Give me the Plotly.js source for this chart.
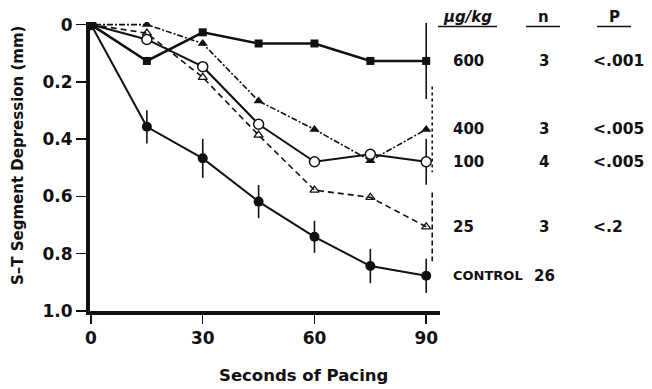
<!DOCTYPE html>
<html><head><meta charset="utf-8">
<script src="https://cdn.plot.ly/plotly-3.0.1.min.js"></script>
<style>html,body{margin:0;padding:0;background:#fff}#c{width:652px;height:389px}</style>
</head><body><div id="c"></div>
<script>
// ---- data ----
var seconds = [0, 15, 30, 45, 60, 75, 90];
var dose600 = [0, 0.127, 0.027, 0.066, 0.066, 0.127, 0.127];
var err600 = [0, 0, 0, 0, 0, 0, 0.133];
var dose400 = [0, 0.0, 0.066, 0.267, 0.366, 0.475, 0.366];
var err400 = 0.15;
var dose100 = [0, 0.052, 0.147, 0.348, 0.479, 0.453, 0.479];
var err100 = [0, 0, 0, 0, 0, 0, 0.08];
var dose25 = [0, 0.03, 0.184, 0.386, 0.578, 0.603, 0.706];
var err25 = 0.12;
var control = [0, 0.357, 0.467, 0.618, 0.741, 0.843, 0.877];
var errControl = [0, 0.058, 0.068, 0.058, 0.056, 0.06, 0.06];
var rowLabels = ['600', '400', '100', '25', 'CONTROL'];
var rowN = ['3', '3', '4', '3', '26'];
var rowP = ['<.001', '<.005', '<.005', '<.2', ''];
var xTicks = [0, 30, 60, 90];
var yTicks = [0, 0.2, 0.4, 0.6, 0.8, 1.0];
var yTickText = ['0', '0.2', '0.4', '0.6', '0.8', '1.0'];

var F = 'DejaVu Sans, sans-serif';
var K = '#111';

var traces = [
  {x: seconds, y: dose25, mode: 'lines+markers', line: {color: K, width: 1.6, dash: '6px,4px'},
   marker: {symbol: 'triangle-up-open', size: 8, color: K, line: {width: 1.3, color: K}}},
  {x: seconds, y: dose400, mode: 'lines+markers', line: {color: K, width: 1.6, dash: '2px,2px,6px,2px'},
   marker: {symbol: 'triangle-up', size: 9, color: K}},
  {x: seconds, y: dose100, mode: 'lines+markers', line: {color: K, width: 2},
   error_y: {type: 'data', array: err100, visible: true, width: 0, thickness: 1.6, color: K},
   marker: {symbol: 'circle', size: 10, color: '#fff', line: {width: 1.5, color: K}}},
  {x: seconds, y: dose600, mode: 'lines+markers', line: {color: K, width: 2.5},
   error_y: {type: 'data', array: err600, visible: true, width: 0, thickness: 1.6, color: K},
   marker: {symbol: 'square', size: 8, color: K}},
  {x: seconds, y: control, mode: 'lines+markers', line: {color: K, width: 2},
   error_y: {type: 'data', array: errControl, visible: true, width: 0, thickness: 1.6, color: K},
   marker: {symbol: 'circle', size: 10, color: K}}
];

var last = seconds.length - 1;
var lastX = seconds[last];
var shapes = [
  {type: 'line', xref: 'x', yref: 'y', xsizemode: 'pixel', xanchor: lastX, x0: 6, x1: 6,
   y0: dose400[last] - err400, y1: dose400[last] + err400, line: {color: K, width: 1.6, dash: 'dot'}},
  {type: 'line', xref: 'x', yref: 'y', xsizemode: 'pixel', xanchor: lastX, x0: 6, x1: 6,
   y0: dose25[last] - err25, y1: dose25[last] + err25, line: {color: K, width: 1.6, dash: '5px,3px'}}
];

// helpers converting page pixels to paper fractions (plot area: x 90..440, y 22..311)
function px2x(p) { return (p - 90) / 350; }
function py2y(p) { return 1 - (p - 22) / 289; }
[[438, 497], [526, 560], [597, 631]].forEach(function (s) {
  shapes.push({type: 'line', xref: 'paper', yref: 'paper', x0: px2x(s[0]), x1: px2x(s[1]),
    y0: py2y(26.5), y1: py2y(26.5), line: {color: K, width: 1.5}});
});

var rowY = [dose600[last], dose400[last], dose100[last], dose25[last], control[last]];
var ann = [];
var hdr = [['<i>\u03bcg/kg</i>', 467, 15], ['n', 543, 15], ['P', 614, 15]];
hdr.forEach(function (h) {
  ann.push({xref: 'paper', yref: 'paper', x: px2x(h[1]), y: py2y(17), text: '<b>' + h[0] + '</b>',
    showarrow: false, xanchor: 'center', yanchor: 'middle', font: {family: F, size: h[2], color: K}});
});
for (var i = 0; i < rowLabels.length; i++) {
  var isC = rowLabels[i] === 'CONTROL';
  ann.push({xref: 'paper', yref: 'y', x: px2x(451), y: rowY[i], text: rowLabels[i], showarrow: false,
    xanchor: 'left', yanchor: 'middle', font: {family: F, size: isC ? 13 : 15, weight: 'bold', color: K}});
  ann.push({xref: 'paper', yref: 'y', x: px2x(544), y: rowY[i], text: rowN[i], showarrow: false,
    xanchor: 'center', yanchor: 'middle', font: {family: F, size: 15, weight: 'bold', color: K}});
  if (rowP[i]) ann.push({xref: 'paper', yref: 'y', x: px2x(591), y: rowY[i], text: rowP[i].replace('<', '&lt;'), showarrow: false,
    xanchor: 'left', yanchor: 'middle', font: {family: F, size: 15.5, weight: 'bold', color: K}});
}
// axis titles
ann.push({xref: 'paper', yref: 'paper', x: px2x(303), y: py2y(376), text: 'Seconds of Pacing', showarrow: false,
  xanchor: 'center', yanchor: 'middle', font: {family: F, size: 16.5, weight: 'bold', color: K}});
ann.push({xref: 'paper', yref: 'paper', x: px2x(18), y: py2y(156), text: 'S\u2013T Segment Depression (mm)', showarrow: false,
  textangle: -90, xanchor: 'center', yanchor: 'middle', font: {family: F, size: 15, weight: 'bold', color: K}});

var tf = {family: F, size: 17, weight: 'bold', color: K};
var layout = {
  width: 652, height: 389,
  margin: {l: 90, r: 212, t: 22, b: 78},
  paper_bgcolor: '#fff', plot_bgcolor: '#fff',
  showlegend: false,
  font: {family: F, color: K},
  xaxis: {range: [-0.27, 93.7], tickvals: xTicks, ticktext: xTicks.map(String), ticks: 'outside', ticklen: 9,
    tickwidth: 1.5, tickcolor: K, showgrid: false, zeroline: false, showline: true, linecolor: K, linewidth: 4,
    tickfont: tf},
  yaxis: {range: [1.0, -0.009], tickvals: yTicks, ticktext: yTickText, ticks: 'outside', ticklen: 10,
    tickwidth: 1.5, tickcolor: K, showgrid: false, zeroline: false, showline: true, linecolor: K, linewidth: 4,
    tickfont: tf},
  shapes: shapes,
  annotations: ann
};

Plotly.newPlot('c', traces, layout, {displayModeBar: false, staticPlot: true});
</script></body></html>
